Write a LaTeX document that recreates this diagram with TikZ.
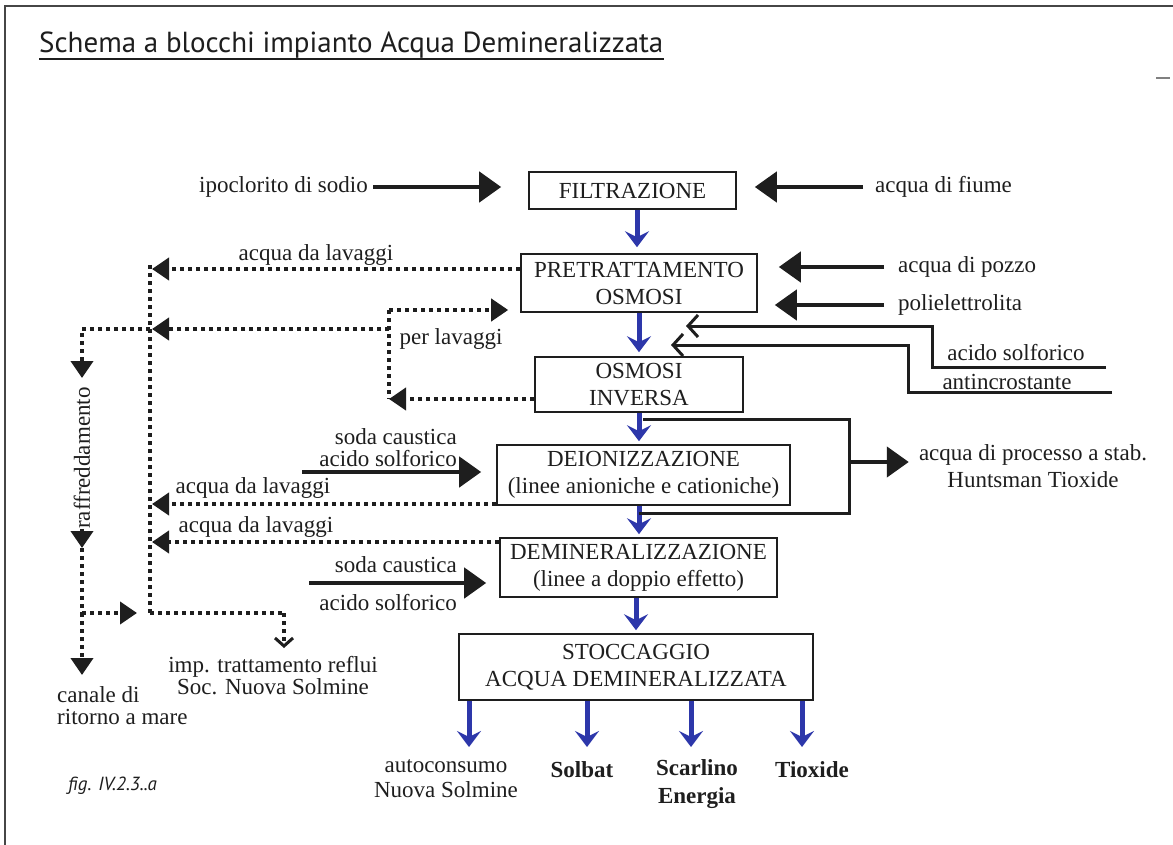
\documentclass[tikz,border=0pt]{standalone}
\usepackage{graphicx}
\usepackage{fontspec}
\setmainfont{Liberation Serif}
\newfontfamily\ttlfont{PT Sans}
\usetikzlibrary{arrows.meta}
\definecolor{arrblue}{RGB}{45,55,170}
\definecolor{framegray}{RGB}{70,70,70}
\definecolor{inkc}{RGB}{30,30,30}
\newcommand{\lblfont}{\fontsize{23}{27}\selectfont}
\newcommand{\tightfont}{\fontsize{23}{22}\selectfont}
\begin{document}
\begin{tikzpicture}[x=1pt,y=-1pt,
  blk/.style={draw=inkc, line width=1.6pt, fill=white, inner sep=0pt, align=center, font=\lblfont, text=inkc},
  lbl/.style={inner sep=0pt, align=center, font=\lblfont, text=inkc},
  inarr/.style={draw=inkc, line width=4.5pt, -{Triangle[length=22pt,width=30pt]}},
  bluearr/.style={draw=arrblue, line width=5pt, -{Stealth[length=16pt,width=24pt,inset=6pt]}},
  dotline/.style={draw=inkc, line width=4pt, dash pattern=on 4pt off 4pt},
  dotarr/.style={dotline, -{Triangle[length=17pt,width=22pt]}},
  acidarr/.style={draw=inkc, line width=3pt, -{Straight Barb[length=10pt,width=22pt]}},
  brk/.style={draw=inkc, line width=3pt}
]
\useasboundingbox (0,0) rectangle (1173,845);
\fill[white] (0,0) rectangle (1173,845);
% frame
\draw[framegray, line width=2.5pt] (5,845) -- (5,6) -- (1173,6);
\draw[gray, line width=2pt] (1156,78) -- (1170,78);

% title
\node[anchor=base west, inner sep=0pt, text=inkc] (title) at (39,53)
  {\resizebox{624pt}{!}{\ttlfont Schema a blocchi impianto Acqua Demineralizzata}};
\draw[inkc, line width=1.6pt] ([yshift=-6pt]title.base west) -- ([yshift=-6pt]title.base east);

% process boxes
\node[blk, minimum width=207pt, minimum height=37pt] (filt) at (632.5,190.5) {FILTRAZIONE};
\node[blk, minimum width=236pt, minimum height=58pt] (pre) at (639,283) {PRETRATTAMENTO\\OSMOSI};
\node[blk, minimum width=208pt, minimum height=55pt] (osm) at (639,384.5) {OSMOSI\\INVERSA};
\node[blk, minimum width=293pt, minimum height=60pt] (deion) at (643.5,475) {DEIONIZZAZIONE\\(linee anioniche e cationiche)};
\node[blk, minimum width=277pt, minimum height=59pt] (demin) at (638.5,567.5) {DEMINERALIZZAZIONE\\(linee a doppio effetto)};
\node[blk, minimum width=354pt, minimum height=66pt] (stoc) at (636,667) {STOCCAGGIO\\ACQUA DEMINERALIZZATA};

% blue main flow
\coordinate (xa) at (637,0);
\coordinate (xb) at (639,0);
\coordinate (xd) at (636,0);
\draw[bluearr, shorten >=6pt] (filt.south -| xa) -- (pre.north -| xa);
\draw[bluearr, shorten >=4pt] (pre.south -| xb) -- (osm.north -| xb);
\draw[bluearr, shorten >=3pt] (osm.south -| xb) -- (deion.north -| xb);
\draw[bluearr, shorten >=3pt] (deion.south -| xb) -- (demin.north -| xb);
\draw[bluearr, shorten >=3pt] (demin.south -| xd) -- (stoc.north -| xd);

% outputs
\node[lbl, font=\fontsize{23}{25}\selectfont] (auto) at (446,779) {autoconsumo\\Nuova Solmine};
\node[lbl, font=\bfseries\fontsize{23}{28}\selectfont] (solb) at (582,770) {Solbat};
\node[lbl, font=\bfseries\fontsize{23}{28}\selectfont] (scar) at (697,784) {Scarlino\\Energia};
\node[lbl, font=\bfseries\fontsize{23}{28}\selectfont] (tiox) at (812,770) {Tioxide};
\coordinate (o1) at (469,747);
\coordinate (o2) at (587,747);
\coordinate (o3) at (691,747);
\coordinate (o4) at (802,747);
\draw[bluearr] (stoc.south -| o1) -- (o1);
\draw[bluearr] (stoc.south -| o2) -- (o2);
\draw[bluearr] (stoc.south -| o3) -- (o3);
\draw[bluearr] (stoc.south -| o4) -- (o4);

% inputs
\node[lbl, anchor=east] (ipo) at (368,187) {ipoclorito di sodio};
\draw[inarr, shorten <=5pt, shorten >=27pt] (ipo.east) -- (ipo.east -| filt.west);
\node[lbl, anchor=west] (fiume) at (875,187) {acqua di fiume};
\draw[inarr, shorten <=12pt, shorten >=18pt] (fiume.west) -- (fiume.west -| filt.east);
\node[lbl, anchor=west] (pozzo) at (898,267) {acqua di pozzo};
\draw[inarr, shorten <=14pt, shorten >=21pt] (pozzo.west) -- (pozzo.west -| pre.east);
\node[lbl, anchor=west] (poli) at (898,305) {polielettrolita};
\draw[inarr, shorten <=14pt, shorten >=17pt] (poli.west) -- (poli.west -| pre.east);

% acids into osmosis
\node[lbl] (acs) at (1016,353) {acido solforico};
\node[lbl] (anti) at (1007,382) {antincrostante};
\coordinate (a1) at (1106,367);
\coordinate (a2) at (932,367);
\coordinate (a3) at (932,326);
\coordinate (a4) at (686,326);
\draw[acidarr] (a1) -- (a2) -- (a3) -- (a4);
\coordinate (c1) at (1112,392);
\coordinate (c2) at (908,392);
\coordinate (c3) at (908,345);
\coordinate (c4) at (671,345);
\draw[acidarr] (c1) -- (c2) -- (c3) -- (c4);

% process water bracket
\coordinate (b1) at (643,419);
\coordinate (b2) at (849,419);
\coordinate (b3) at (849,513);
\coordinate (b4) at (639,513);
\coordinate (b5) at (849,462);
\draw[brk] (b1) -- (b2) -- (b3) -- (b4);
\node[lbl] (proc) at (1033,466) {acqua di processo a stab.\\Huntsman Tioxide};
\draw[inarr, shorten >=10pt] (b5) -- (b5 -| proc.west);

% chemicals into deionization / demineralization
\node[lbl, anchor=east, align=right, font=\tightfont] (sodaA) at (457,448) {soda caustica\\acido solforico};
\coordinate (sA) at (302,472);
\draw[inarr, shorten >=15pt] (sA) -- (sA -| deion.west);
\node[lbl, anchor=east] (sodaB) at (457,565) {soda caustica};
\node[lbl, anchor=east] (acidB) at (457,603) {acido solforico};
\coordinate (sB) at (309,583);
\draw[inarr, shorten >=13pt] (sB) -- (sB -| demin.west);

% washing water network (dotted)
\coordinate (v1) at (150,265);
\coordinate (v2) at (150,613);
\draw[dotline] (v1) -- (v2);
\node[lbl] (lavA) at (316,255) {acqua da lavaggi};
\coordinate (yA) at (0,269);
\draw[dotarr, shorten >=2pt] (pre.west |- yA) -- (v1 |- yA);

\coordinate (p1) at (389,310);
\coordinate (p2) at (389,399);
\coordinate (p3) at (389,329);
\draw[dotline] (p1) -- (p2);
\draw[dotarr, shorten >=12pt] (p1) -- (p1 -| pre.west);
\draw[dotarr] (osm.west |- p2) -- (p2);
\draw[dotarr, shorten >=2pt] (p3) -- (v1 |- p3);
\node[lbl] (perl) at (451,339) {per lavaggi};

\coordinate (r1) at (82,329);
\coordinate (r2) at (82,378);
\coordinate (r3) at (82,548);
\coordinate (r4) at (82,613);
\coordinate (r5) at (82,675);
\node[lbl, rotate=90] (raff) at (82,458) {raffreddamento};
\draw[dotarr] (v1 |- p3) -- (r1) -- (r2);
\draw[dotarr] (raff.west) -- (r3);
\draw[dotline] (r3) -- (r4);
\draw[dotarr, shorten >=13pt] (r4) -- (v2);
\draw[dotarr] (r4) -- (r5);
\node[lbl, anchor=north west, align=left, font=\fontsize{23}{22}\selectfont] (canale) at (57,686) {canale di\\ritorno a mare};

\coordinate (t1) at (284,613);
\coordinate (t2) at (284,648);
\draw[dotline] (v2) -- (t1);
\draw[dotline, -{Straight Barb[length=8pt,width=18pt,line width=3pt]}] (t1) -- (t2);
\node[lbl, font=\tightfont] (imp) at (273,676) {imp. trattamento reflui\\Soc. Nuova Solmine};

\node[lbl] (lavB) at (253,488) {acqua da lavaggi};
\coordinate (yB) at (0,504);
\draw[dotarr, shorten >=2pt] (deion.west |- yB) -- (v1 |- yB);
\node[lbl] (lavC) at (256,527) {acqua da lavaggi};
\coordinate (yC) at (0,542);
\draw[dotarr, shorten >=2pt] (demin.west |- yC) -- (v1 |- yC);

% figure tag
\node[anchor=base west, inner sep=0pt, text=inkc, font=\ttlfont\itshape\fontsize{19}{22}\selectfont] (fig) at (68,790) {fig. IV.2.3..a};
\end{tikzpicture}
\end{document}
